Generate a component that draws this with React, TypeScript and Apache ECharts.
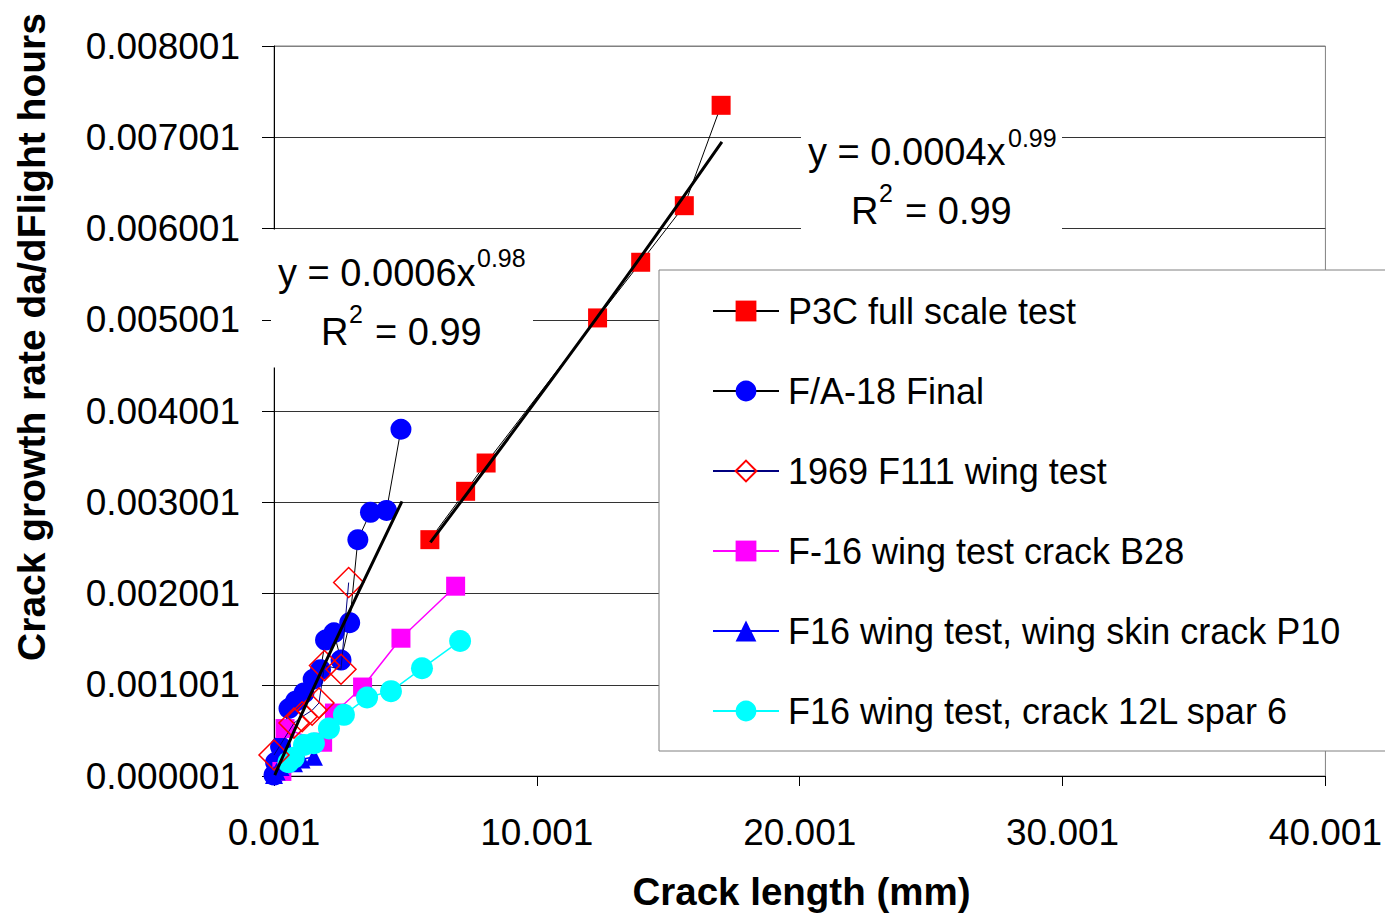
import React, { useEffect, useRef } from "react";
import * as echarts from "echarts";

// Crack length (mm) vs crack growth rate for several full-scale fatigue tests
const p3cFullScale: [number, number][] = [
  [5.93, 0.00259], [7.29, 0.00312], [8.07, 0.00343], [12.31, 0.00502],
  [13.95, 0.00563], [15.61, 0.00625], [17.01, 0.00735],
];
const fa18Final: [number, number][] = [
  [0.0, 0.00001], [0.06, 0.00015], [0.25, 0.00032], [0.57, 0.00074],
  [0.82, 0.00082], [1.14, 0.00091], [1.49, 0.00106], [1.77, 0.001165],
  [1.96, 0.00149], [2.28, 0.00157], [2.55, 0.00127], [2.88, 0.00168],
  [3.19, 0.00259], [3.67, 0.00289], [4.28, 0.00291], [4.83, 0.0038],
];
const f111Wing1969: [number, number][] = [
  [0.0, 0.00023], [0.76, 0.00058], [1.07, 0.00065], [1.45, 0.00072],
  [1.71, 0.0008], [1.92, 0.00121], [2.55, 0.00117], [2.84, 0.00212],
];
const f16CrackB28: [number, number][] = [
  [0.3, 0.00005], [0.42, 0.00052], [1.85, 0.00037], [2.3, 0.00069],
  [3.37, 0.000975], [4.83, 0.00151], [6.91, 0.00208],
];
const f16SkinP10: [number, number][] = [
  [0.0, 0.00001], [0.1, 0.00005], [0.25, 0.0001], [0.5, 0.00015],
  [0.76, 0.00014], [1.05, 0.00018], [1.52, 0.00021],
];
const f16Spar12L: [number, number][] = [
  [0.55, 0.00015], [0.75, 0.0002], [1.14, 0.00034], [1.52, 0.00036],
  [2.09, 0.00052], [2.66, 0.00067], [3.54, 0.00086], [4.45, 0.00093],
  [5.63, 0.00118], [7.08, 0.00148],
];
// Power-law trend lines (as plotted)
const fa18Trend: [number, number][] = [[0.03, 0.00001], [1.77, 0.00113], [4.87, 0.00301]];
const p3cTrend: [number, number][] = [[5.95, 0.00256], [12.3, 0.00503], [17.04, 0.00695]];

const seriesNames = [
  "P3C full scale test",
  "F/A-18 Final",
  "1969 F111 wing test",
  "F-16 wing test crack B28",
  "F16 wing test, wing skin crack P10",
  "F16 wing test, crack 12L spar 6",
];

const xOffset = 0.001;
const yOffset = 0.000001;

const FONT = "'Liberation Sans', Arial, sans-serif";

export default function App() {
  const ref = useRef<HTMLDivElement>(null);

  useEffect(() => {
    if (!ref.current) return;
    const chart = echarts.init(ref.current, null, { renderer: "svg" });

    const gridColors = ["#333", "#333", "#333", "#333", "#333", "#333", "#333", "#333", "#808080"];

    const txt = (text: string, x: number, y: number, size: number, extra: any = {}) => ({
      type: "text",
      x,
      y,
      z: 10,
      style: {
        text,
        fill: "#000",
        font: `${extra.weight || "normal"} ${size}px ${FONT}`,
        align: extra.align || "left",
        verticalAlign: "middle",
      },
      rotation: extra.rotation || 0,
    });

    chart.setOption({
      animation: false,
      backgroundColor: "#fff",
      grid: {
        left: 274,
        right: 56,
        top: 46,
        bottom: 137,
        show: true,
        borderColor: "#808080",
        borderWidth: 1,
        backgroundColor: "transparent",
      },
      xAxis: {
        type: "value",
        min: 0,
        max: 40,
        interval: 10,
        axisLine: { show: true, onZero: false, lineStyle: { color: "#000", width: 1 } },
        axisTick: { show: true, inside: false, length: 10, lineStyle: { color: "#000" } },
        axisLabel: {
          fontSize: 37,
          fontFamily: FONT,
          color: "#000",
          margin: 38,
          showMinLabel: true,
          showMaxLabel: true,
          formatter: (v: number) => (v + xOffset).toFixed(3),
        },
        splitLine: { show: false },
      },
      yAxis: {
        type: "value",
        min: 0,
        max: 0.008,
        interval: 0.001,
        axisLine: { show: true, onZero: false, lineStyle: { color: "#000", width: 1 } },
        axisTick: { show: true, inside: false, length: 12, lineStyle: { color: "#000" } },
        axisLabel: {
          fontSize: 37,
          fontFamily: FONT,
          color: "#000",
          margin: 34,
          showMinLabel: true,
          showMaxLabel: true,
          formatter: (v: number) => (v + yOffset).toFixed(6),
        },
        splitLine: { show: true, lineStyle: { color: gridColors, width: 1 } },
      },
      legend: {
        orient: "vertical",
        left: 659,
        top: 270,
        padding: [23, 60, 22, 53],
        itemWidth: 66,
        itemHeight: 26,
        itemGap: 44,
        backgroundColor: "#fff",
        borderColor: "#808080",
        borderWidth: 1,
        textStyle: {
          fontSize: 36,
          fontFamily: FONT,
          color: "#000",
          lineHeight: 36,
          padding: [0, 0, 0, 4],
        },
        data: seriesNames,
      },
      series: [
        {
          name: seriesNames[0],
          type: "line",
          data: p3cFullScale,
          symbol: "rect",
          symbolSize: 19,
          itemStyle: { color: "#FF0000" },
          lineStyle: { color: "#000", width: 1 },
          z: 3,
        },
        {
          name: seriesNames[1],
          type: "line",
          data: fa18Final,
          symbol: "circle",
          symbolSize: 21,
          itemStyle: { color: "#0000FF" },
          lineStyle: { color: "#000", width: 1 },
          z: 3,
        },
        {
          name: seriesNames[2],
          type: "line",
          data: f111Wing1969,
          symbol: "diamond",
          symbolSize: 30,
          itemStyle: { color: "rgba(255,255,255,0)", borderColor: "#FF0000", borderWidth: 1.5 },
          lineStyle: { color: "#000080", width: 1 },
          z: 4,
        },
        {
          name: seriesNames[3],
          type: "line",
          data: f16CrackB28,
          symbol: "rect",
          symbolSize: 19,
          itemStyle: { color: "#FF00FF" },
          lineStyle: { color: "#FF00FF", width: 1.5 },
          z: 3,
        },
        {
          name: seriesNames[4],
          type: "line",
          data: f16SkinP10,
          symbol: "triangle",
          symbolSize: 18,
          itemStyle: { color: "#0000FF" },
          lineStyle: { color: "#0000FF", width: 1.5 },
          z: 3,
        },
        {
          name: seriesNames[5],
          type: "line",
          data: f16Spar12L,
          symbol: "circle",
          symbolSize: 22,
          itemStyle: { color: "#00FFFF" },
          lineStyle: { color: "#00FFFF", width: 1.5 },
          z: 3,
        },
        {
          name: "fa18-trend",
          type: "line",
          data: fa18Trend,
          symbol: "none",
          smooth: true,
          lineStyle: { color: "#000", width: 3 },
          silent: true,
          z: 6,
        },
        {
          name: "p3c-trend",
          type: "line",
          data: p3cTrend,
          symbol: "none",
          smooth: true,
          lineStyle: { color: "#000", width: 3 },
          silent: true,
          z: 6,
        },
      ],
      graphic: [
        // trend equation labels on white boxes
        { type: "rect", z: 9, shape: { x: 271, y: 229.5, width: 262, height: 138 }, style: { fill: "#fff" } },
        { type: "rect", z: 9, shape: { x: 801, y: 112, width: 261, height: 132 }, style: { fill: "#fff" } },
        txt("y = 0.0006x", 278, 272.5, 38),
        txt("0.98", 477, 258, 25),
        txt("R", 321, 332, 38),
        txt("2", 349, 314, 25),
        txt("= 0.99", 375, 332, 38),
        txt("y = 0.0004x", 808, 152, 38),
        txt("0.99", 1008, 137.5, 25),
        txt("R", 851, 211, 38),
        txt("2", 879, 193, 25),
        txt("= 0.99", 905, 211, 38),
        // axis titles
        txt("Crack length (mm)", 801.5, 891, 38.5, { weight: "bold", align: "center" }),
        txt("Crack growth rate da/dFlight hours", 31, 337, 39, {
          weight: "bold",
          align: "center",
          rotation: Math.PI / 2,
        }),
      ],
    });

    return () => chart.dispose();
  }, []);

  return (
    <div
      ref={ref}
      style={{ position: "absolute", left: 0, top: 0, width: 1385, height: 913 }}
    />
  );
}
